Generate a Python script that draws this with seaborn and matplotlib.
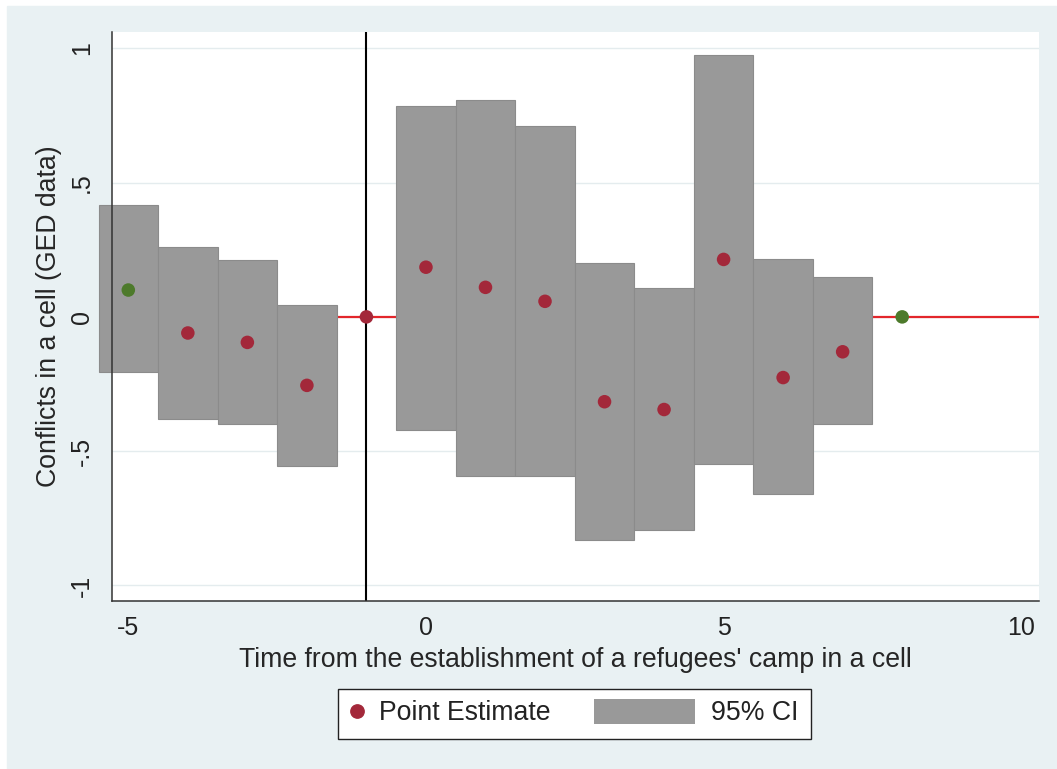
import matplotlib.pyplot as plt
import pandas as pd
import seaborn as sns
from matplotlib.legend_handler import HandlerPatch
from matplotlib.lines import Line2D
from matplotlib.patches import Patch, Rectangle

# event-study estimates
periods = [-5, -4, -3, -2, -1, 0, 1, 2, 3, 4, 5, 6, 7, 8]
estimates = [0.10, -0.06, -0.095, -0.255, 0.0, 0.185, 0.11, 0.058, -0.316, -0.345, 0.214, -0.226, -0.13, 0.0]
ci_low = [-0.204, -0.382, -0.399, -0.555, None, -0.422, -0.593, -0.593, -0.832, -0.794, -0.548, -0.66, -0.399, None]
ci_high = [0.418, 0.262, 0.21, 0.046, None, 0.785, 0.806, 0.71, 0.202, 0.106, 0.977, 0.217, 0.15, None]
point_type = ["end", "est", "est", "est", "est", "est", "est", "est", "est", "est", "est", "est", "est", "end"]

x_ticks = [-5, 0, 5, 10]
y_ticks = [-1, -0.5, 0, 0.5, 1]
y_tick_labels = ["-1", "-.5", "0", ".5", "1"]

df = pd.DataFrame(
    {"period": periods, "estimate": estimates, "ci_low": ci_low, "ci_high": ci_high, "type": point_type}
)
ci = df.dropna(subset=["ci_low"])

sns.set_theme(style="white")
plt.rcParams["font.family"] = ["Liberation Sans", "DejaVu Sans"]
plt.rcParams["text.color"] = "#222222"
plt.rcParams["axes.unicode_minus"] = False

bg = "#e9f1f3"
point_red = "#a3283a"
point_green = "#4d7a2b"
ci_grey = "#999999"

fig = plt.figure(figsize=(10.57, 7.69), dpi=100)
fig.patch.set_facecolor("white")
fig.add_artist(Rectangle((7 / 1057, 0), 1, 1 - 6 / 769, transform=fig.transFigure, color=bg, zorder=-10))

ax = fig.add_axes([0.10596, 0.21886, 0.87654, 0.73953])
ax.set_facecolor("white")

for yt in y_ticks:
    ax.axhline(yt, color="#e4ecee", lw=1.0, zorder=0.2)
ax.axhline(0, color="#e3262b", lw=1.6, zorder=0.5)

ax.bar(
    ci["period"], ci["ci_high"] - ci["ci_low"], bottom=ci["ci_low"], width=1,
    color=ci_grey, edgecolor="#8b8b8b", linewidth=0.8, clip_on=False, zorder=1,
)
ax.axvline(-1, color="black", lw=1.5, zorder=2)

sns.scatterplot(
    data=df, x="period", y="estimate", hue="type", palette={"est": point_red, "end": point_green},
    s=95, linewidth=0, legend=False, zorder=3, ax=ax,
)

ax.set_xlim(-5.274, 10.29)
ax.set_ylim(-1.057, 1.061)
ax.set_xticks(x_ticks)
ax.set_yticks(y_ticks)
ax.set_yticklabels(y_tick_labels, rotation=90, va="center")
ax.tick_params(axis="both", direction="out", length=8, width=1, color="#333333", labelsize=18, labelcolor="#222222")
ax.tick_params(axis="x", pad=3)
ax.tick_params(axis="y", pad=5)

for side in ["top", "right"]:
    ax.spines[side].set_visible(False)
for side in ["left", "bottom"]:
    ax.spines[side].set_color("#333333")
    ax.spines[side].set_linewidth(1.1)

ax.set_xlabel("Time from the establishment of a refugees' camp in a cell", fontsize=19.2, labelpad=5)
ax.set_ylabel("Conflicts in a cell (GED data)", fontsize=19.2, labelpad=6)


def wide_patch(legend, orig_handle, xdescent, ydescent, width, height, fontsize):
    w = 72.7
    h = 18
    return Rectangle((-xdescent + width - w, -ydescent + height / 2 - h / 2), w, h)


handles = [
    Line2D([], [], marker="o", color=point_red, linestyle="none", markersize=9.6),
    Patch(facecolor=ci_grey, edgecolor="none"),
]
leg = fig.legend(
    handles, ["Point Estimate", "95% CI"], ncol=2, loc="center",
    bbox_to_anchor=(574.5 / 1057, 1 - 713.5 / 769), fontsize=19.2,
    frameon=True, fancybox=False, framealpha=1, edgecolor="#222222",
    handlelength=0.47, handletextpad=0.6, columnspacing=4.96, borderpad=0.45,
    handler_map={Patch: HandlerPatch(patch_func=wide_patch)},
)
leg.get_frame().set_linewidth(1.0)
leg.get_frame().set_facecolor("white")

plt.savefig("out.png", dpi=100)
